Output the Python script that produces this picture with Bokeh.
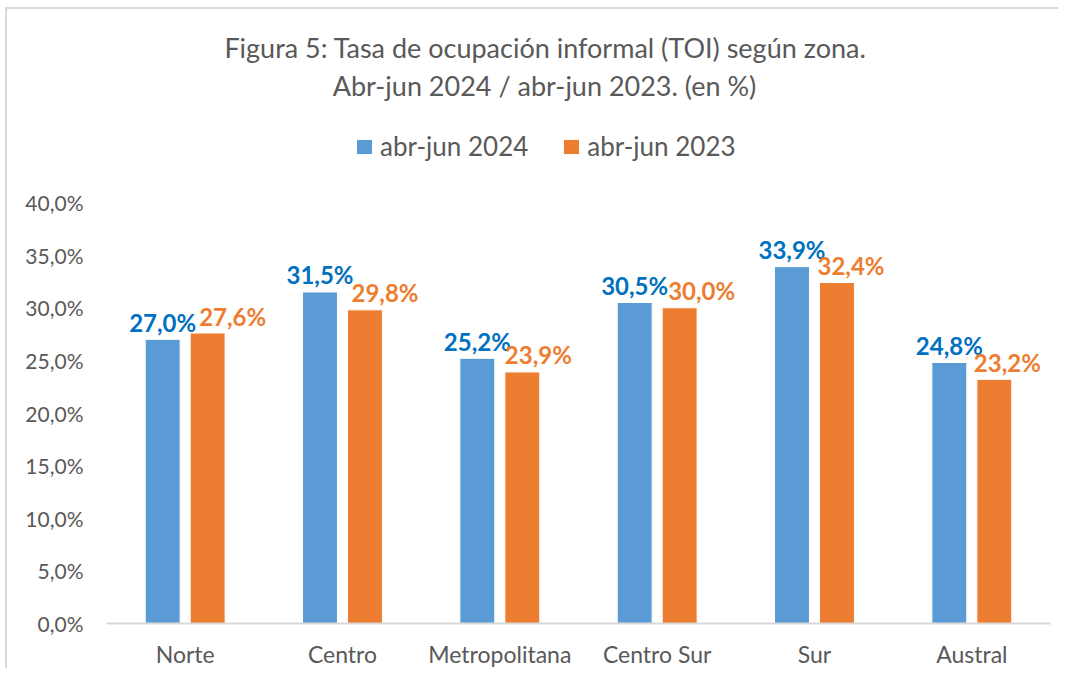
from bokeh.plotting import figure
from bokeh.models import (FactorRange, Range1d, Label, Legend, LegendItem,
                          FixedTicker, ColumnDataSource)
from bokeh.transform import dodge
from bokeh.core.properties import value
from bokeh.embed import file_html
from bokeh.resources import INLINE

zones = ["Norte", "Centro", "Metropolitana", "Centro Sur", "Sur", "Austral"]
toi_2024 = [27.0, 31.5, 25.2, 30.5, 33.9, 24.8]
toi_2023 = [27.6, 29.8, 23.9, 30.0, 32.4, 23.2]
series_names = ["abr-jun 2024", "abr-jun 2023"]
y_ticks = [0, 5, 10, 15, 20, 25, 30, 35, 40]
y_tick_labels = ["0,0%", "5,0%", "10,0%", "15,0%", "20,0%", "25,0%", "30,0%", "35,0%", "40,0%"]
title_lines = ["Figura 5: Tasa de ocupación informal (TOI) según zona.",
               "Abr-jun 2024 / abr-jun 2023. (en %)"]

# style: horizontal nudge (px) of the 2023 data labels, as placed in the original
label_nudge_2023 = [25, 20, 16, 22, 14, 13]


def fmt(v):
    return f"{v:.1f}".replace(".", ",") + "%"


src = ColumnDataSource(dict(
    zone=zones, v24=toi_2024, v23=toi_2023,
    t24=[fmt(v) for v in toi_2024], t23=[fmt(v) for v in toi_2023],
    dx23=label_nudge_2023,
))

FONT = "Lato"
GREY = "#595959"
BLUE = "#5B9BD5"
ORANGE = "#ED7D31"
FRAME_GREY = "#D9D9D9"

# page offset of the figure's content (margin + css border)
MT, ML, BW = 7, 5, 2
OX, OY = ML + BW, MT + BW
W, H = 1060 - OX, 670 - OY
FR_L, FR_R, FR_B = 106 - OX, 1050 - OX, 623 - OY   # frame edges in figure pixels
Y40 = 202 - OY                                     # pixel row of the 40% level
y_top = 40 * FR_B / (FR_B - Y40)                   # frame reaches the canvas top

p = figure(x_range=FactorRange(*zones), y_range=Range1d(0, y_top),
           width=W, height=H, output_backend="svg", toolbar_location=None,
           min_border=0, min_border_left=FR_L, min_border_right=W - FR_R,
           min_border_top=0, min_border_bottom=H - FR_B)
p.margin = (MT, 0, 0, ML)
p.styles = {"border-top": f"{BW}px solid {FRAME_GREY}",
            "border-left": f"{BW}px solid {FRAME_GREY}"}
p.outline_line_color = None
p.background_fill_color = "white"
p.border_fill_color = "white"
p.xgrid.visible = False
p.ygrid.visible = False

off = 0.143
bw = 0.222
r24 = p.vbar(x=dodge("zone", -off, range=p.x_range), top="v24", width=bw,
             source=src, fill_color=BLUE, line_color="white", line_width=1)
r23 = p.vbar(x=dodge("zone", off, range=p.x_range), top="v23", width=bw,
             source=src, fill_color=ORANGE, line_color="white", line_width=1)

p.text(x=dodge("zone", -off, range=p.x_range), y="v24", text="t24", source=src,
       text_align="center", text_baseline="alphabetic", y_offset=-17,
       text_font=value(FONT), text_font_style="bold", text_font_size="24px",
       text_color="#0070C0")
p.text(x=dodge("zone", off, range=p.x_range), y="v23", text="t23", source=src,
       text_align="center", text_baseline="alphabetic", y_offset=-17,
       x_offset="dx23",
       text_font=value(FONT), text_font_style="bold", text_font_size="24px",
       text_color=ORANGE)

# axes
p.yaxis.ticker = FixedTicker(ticks=y_ticks)
p.yaxis.major_label_overrides = {t: l for t, l in zip(y_ticks, y_tick_labels)}
p.yaxis.axis_line_color = None
p.yaxis.major_tick_line_color = None
p.yaxis.minor_tick_line_color = None
p.yaxis.major_tick_out = 0
p.yaxis.major_tick_in = 0
p.yaxis.minor_tick_out = 0
p.yaxis.major_label_standoff = 23
p.yaxis.major_label_text_font = FONT
p.yaxis.major_label_text_font_size = "21px"
p.yaxis.major_label_text_color = GREY

p.xaxis.axis_line_color = FRAME_GREY
p.xaxis.axis_line_width = 2
p.xaxis.major_tick_line_color = None
p.xaxis.minor_tick_line_color = None
p.xaxis.major_tick_out = 0
p.xaxis.major_tick_in = 0
p.xaxis.major_label_standoff = 16
p.xaxis.major_label_text_font = FONT
p.xaxis.major_label_text_font_size = "23px"
p.xaxis.major_label_text_color = GREY

# title (screen units measured from the frame's bottom-left corner)
PAGE_FR_L, PAGE_FR_B = 106, 623
p.add_layout(Label(x=545 - PAGE_FR_L, y=PAGE_FR_B - 47, x_units="screen", y_units="screen",
                   text=title_lines[0], text_align="center", text_baseline="middle",
                   text_font=FONT, text_font_size="27px", text_color=GREY))
p.add_layout(Label(x=544 - PAGE_FR_L, y=PAGE_FR_B - 85, x_units="screen", y_units="screen",
                   text=title_lines[1], text_align="center", text_baseline="middle",
                   text_font=FONT, text_font_size="27px", text_color=GREY))

legend = Legend(items=[LegendItem(label=series_names[0], renderers=[r24]),
                       LegendItem(label=series_names[1], renderers=[r23])],
                location=(354 - PAGE_FR_L, PAGE_FR_B - 162), orientation="horizontal",
                glyph_width=20, glyph_height=19, label_height=26,
                label_standoff=6, spacing=33, padding=0, margin=0,
                border_line_color=None, background_fill_alpha=0,
                label_text_font=FONT, label_text_font_size="26px",
                label_text_color=GREY)
p.add_layout(legend)

open("out.html", "w").write(file_html(p, INLINE))
